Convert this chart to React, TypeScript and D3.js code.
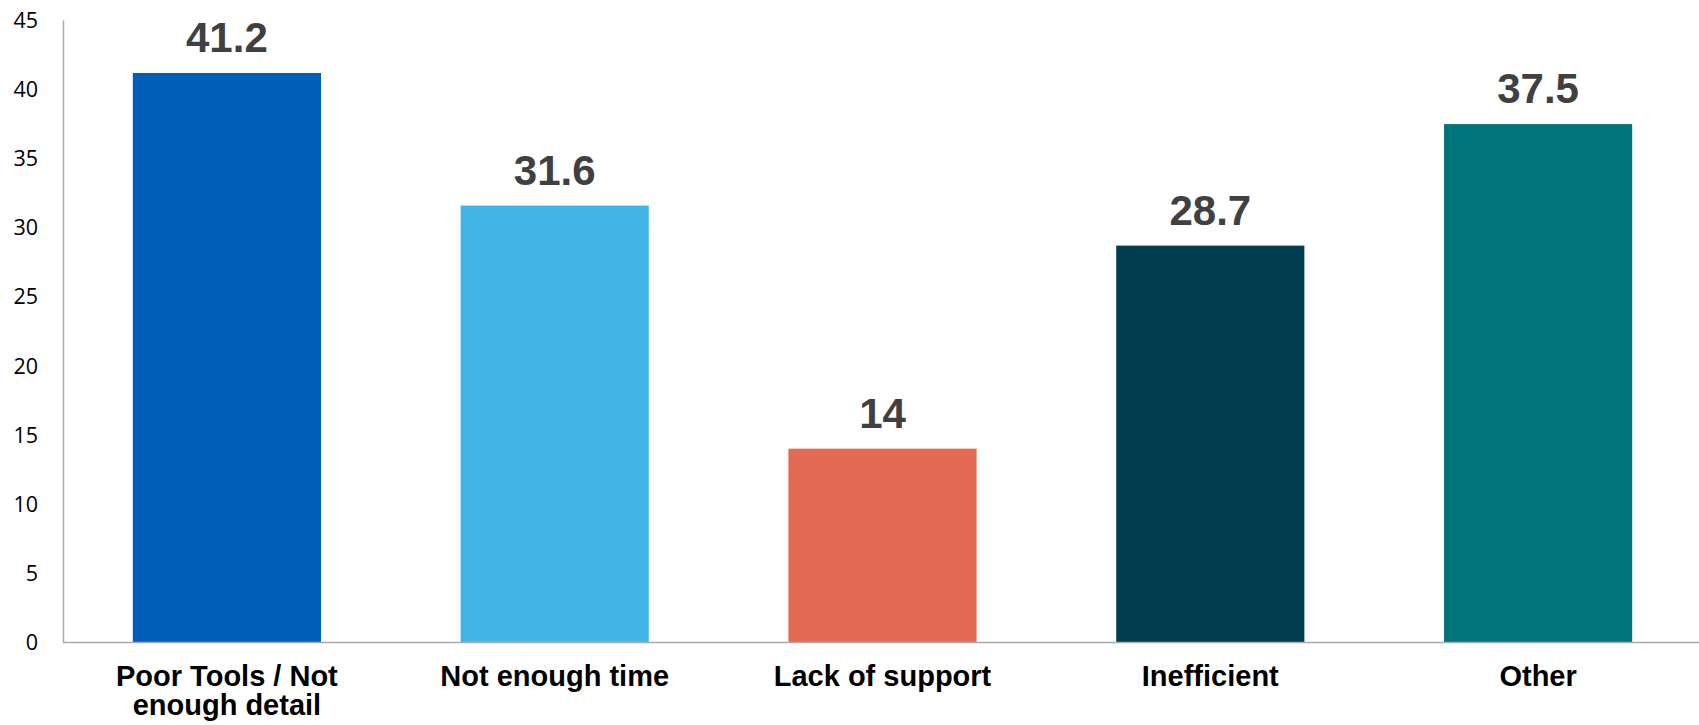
import React from "react";
import * as d3 from "d3";

const categories: string[][] = [
  ["Poor Tools / Not", "enough detail"],
  ["Not enough time"],
  ["Lack of support"],
  ["Inefficient"],
  ["Other"],
];
const values: number[] = [41.2, 31.6, 14, 28.7, 37.5];
const valueLabels: string[] = ["41.2", "31.6", "14", "28.7", "37.5"];
const colors: string[] = ["#005EB8", "#41B6E6", "#E56A54", "#003D51", "#00747A"];
const yTicks: number[] = [0, 5, 10, 15, 20, 25, 30, 35, 40, 45];

const W = 1699;
const H = 725;

export default function App() {
  const keys = categories.map((c) => c.join(" "));
  const x = d3
    .scaleBand<string>()
    .domain(keys)
    .range([63, 1702])
    .paddingInner(0.426)
    .paddingOuter(0.213);
  const y = d3.scaleLinear().domain([0, 45]).range([642, 20.5]);

  return (
    <svg
      width={W}
      height={H}
      style={{ position: "absolute", left: 0, top: 0, display: "block", background: "#fff" }}
    >
      {values.map((v, i) => (
        <rect
          key={i}
          x={x(keys[i])}
          y={y(v)}
          width={x.bandwidth()}
          height={y(0) - y(v)}
          fill={colors[i]}
        />
      ))}
      <line x1={63.5} x2={63.5} y1={y(45)} y2={y(0)} stroke="#ABABAB" strokeWidth={1.5} />
      <line x1={63} x2={W} y1={y(0) + 0.5} y2={y(0) + 0.5} stroke="#ABABAB" strokeWidth={1.5} />
      {yTicks.map((t) => (
        <text
          key={t}
          x={38}
          y={y(t)}
          dy="0.36em"
          textAnchor="end"
          fontFamily="'Open Sans', sans-serif"
          fontSize={21.5}
          fill="#000"
        >
          {t}
        </text>
      ))}
      {values.map((v, i) => (
        <text
          key={i}
          x={(x(keys[i]) as number) + x.bandwidth() / 2}
          y={y(v) - 21}
          textAnchor="middle"
          fontFamily="'Liberation Sans', Arial, sans-serif"
          fontWeight="bold"
          fontSize={42}
          fill="#404040"
        >
          {valueLabels[i]}
        </text>
      ))}
      {categories.map((lines, i) => (
        <text
          key={i}
          textAnchor="middle"
          fontFamily="'Liberation Sans', Arial, sans-serif"
          fontWeight="bold"
          fontSize={29}
          fill="#000"
        >
          {lines.map((l, j) => (
            <tspan key={j} x={(x(keys[i]) as number) + x.bandwidth() / 2} y={686 + j * 29}>
              {l}
            </tspan>
          ))}
        </text>
      ))}
    </svg>
  );
}
